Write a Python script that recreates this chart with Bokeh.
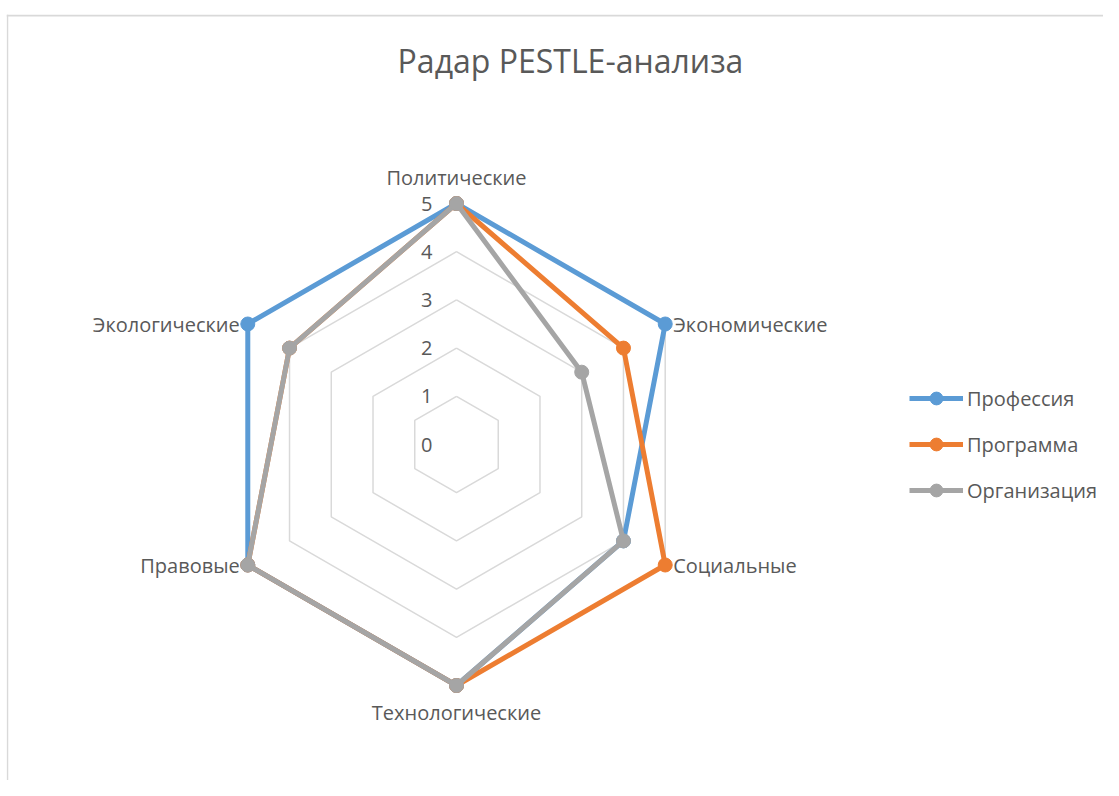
import numpy as np
from bokeh.plotting import figure
from bokeh.models import Legend, LegendItem, Label, ColumnDataSource, Span
from bokeh.core.properties import value
from bokeh.embed import file_html
from bokeh.resources import INLINE

title_text = "Радар PESTLE-анализа"
categories = ["Политические", "Экономические", "Социальные",
              "Технологические", "Правовые", "Экологические"]
series_names = ["Профессия", "Программа", "Организация"]
professiya = [5, 5, 4, 5, 5, 5]
programma = [5, 4, 5, 5, 5, 4]
organizatsiya = [5, 3, 4, 5, 5, 4]
tick_values = [0, 1, 2, 3, 4, 5]
tick_labels = ["0", "1", "2", "3", "4", "5"]

colors = ["#5B9BD5", "#ED7D31", "#A5A5A5"]
TEXT = "#595959"
FONT = "Open Sans"

W, H = 1103, 780
LEFT, TOP = 6, 14
FW, FH = W - LEFT, H - TOP
CX, CY = 450, 336  # center in frame px from left / bottom
UNIT = 48.2        # px per value unit

p = figure(width=W, height=H, output_backend="svg", toolbar_location=None,
           x_range=(-CX, FW - CX), y_range=(-CY, FH - CY),
           min_border_left=LEFT, min_border_right=0, min_border_bottom=0,
           min_border_top=TOP)
p.xaxis.visible = False
p.yaxis.visible = False
p.xgrid.visible = False
p.ygrid.visible = False
p.outline_line_color = None
p.background_fill_color = "white"
p.border_fill_color = "white"

# chart-area border (left and top edges only visible in reference)
p.add_layout(Span(location=-CX + 1, dimension="height", line_color="#D9D9D9", line_width=1.5))
p.add_layout(Span(location=FH - CY - 1, dimension="width", line_color="#D9D9D9", line_width=2))

n = len(categories)
angles = np.pi / 2 - np.arange(n) * 2 * np.pi / n

# grid rings
for v in tick_values[1:]:
    xs = list(v * UNIT * np.cos(angles)) + [v * UNIT * np.cos(angles[0])]
    ys = list(v * UNIT * np.sin(angles)) + [v * UNIT * np.sin(angles[0])]
    p.line(xs, ys, line_color="#D9D9D9", line_width=1.5)

# tick labels
p.text(x=[-24] * len(tick_values), y=[v * UNIT for v in tick_values], text=tick_labels,
       text_align="right", text_baseline="middle", text_font=value(FONT),
       text_font_size="20px", text_color=TEXT)

# category labels
R = 5 * UNIT
lx, ly, la = [], [], []
for a in angles:
    c, s = np.cos(a), np.sin(a)
    if abs(c) < 0.1:
        lx.append(0.0)
        ly.append(R * s + (26 if s > 0 else -27))
        la.append("center")
    else:
        lx.append(R * c + (8 if c > 0 else -8))
        ly.append(R * s)
        la.append("left" if c > 0 else "right")
src = ColumnDataSource(dict(x=lx, y=ly, t=categories, a=la))
p.text(x="x", y="y", text="t", text_align="a", source=src, text_baseline="middle",
       text_font=value(FONT), text_font_size="20px", text_color=TEXT)

# series
items = []
for name, vals, col in zip(series_names, [professiya, programma, organizatsiya], colors):
    r = np.array(vals, dtype=float) * UNIT
    xs = r * np.cos(angles)
    ys = r * np.sin(angles)
    xl = list(xs) + [xs[0]]
    yl = list(ys) + [ys[0]]
    ln = p.line(xl, yl, line_color=col, line_width=5, line_join="round")
    sc = p.scatter(list(xs), list(ys), size=14, fill_color=col, line_color=col)
    items.append(LegendItem(label=name, renderers=[ln, sc]))

legend = Legend(items=items, location=(903, 274), orientation="vertical",
                glyph_width=54, glyph_height=32, label_height=32, spacing=14,
                label_standoff=4, padding=0, margin=0,
                border_line_color=None, background_fill_alpha=0,
                label_text_font=FONT, label_text_font_size="20px",
                label_text_color=TEXT)
p.add_layout(legend, "center")

# title
p.add_layout(Label(x=114, y=384, text=title_text, text_align="center",
                   text_baseline="middle", text_font=FONT, text_font_size="32px",
                   text_color=TEXT))

open("out.html", "w").write(file_html(p, INLINE))
